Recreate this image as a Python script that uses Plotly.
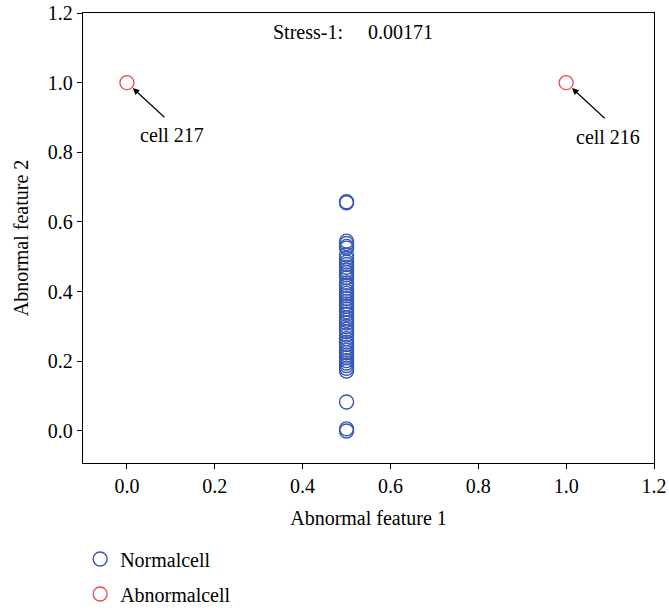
import plotly.graph_objects as go

normal_x_value = 0.5
normal_y = [0.658, 0.655, 0.545, 0.538, 0.530, 0.525, 0.505, 0.495, 0.485, 0.478,
            0.470, 0.462, 0.455, 0.448, 0.440, 0.425, 0.418, 0.410, 0.402, 0.395,
            0.388, 0.380, 0.372, 0.365, 0.358, 0.350, 0.342, 0.335, 0.325, 0.318,
            0.310, 0.300, 0.292, 0.285, 0.275, 0.265, 0.255, 0.248, 0.240, 0.232,
            0.225, 0.218, 0.210, 0.202, 0.195, 0.188, 0.180, 0.172, 0.083, 0.006, 0.0]
normal_x = [normal_x_value] * len(normal_y)

abnormal_x = [0.0, 1.0]
abnormal_y = [1.0, 1.0]
abnormal_labels = ["cell 217", "cell 216"]

series_names = ["Normalcell", "Abnormalcell"]
stress_text = "Stress-1:\u00a0\u00a0\u00a0\u00a0\u00a00.00171"

FONT = "Liberation Serif"
FS = 20
BLUE = "#3656b8"
RED = "#ec4b4b"

fig = go.Figure()
fig.add_trace(go.Scatter(x=normal_x, y=normal_y, mode="markers", name=series_names[0],
                         legendgroup="a",
                         marker=dict(symbol="circle-open", size=14, color=BLUE,
                                     line=dict(width=1.4, color=BLUE))))
fig.add_trace(go.Scatter(x=abnormal_x, y=abnormal_y, mode="markers", name=series_names[1],
                         legendgroup="b",
                         marker=dict(symbol="circle-open", size=14, color=RED,
                                     line=dict(width=1.3, color=RED))))

# arrows (tail offsets in pixels) and labels
arrow_tails = [(39, 36), (40, 37)]
label_offsets = [(45, 52), (42, 54)]
for xv, yv, lab, (tx, ty), (lx, ly) in zip(abnormal_x, abnormal_y, abnormal_labels,
                                           arrow_tails, label_offsets):
    fig.add_annotation(x=xv, y=yv, xref="x", yref="y", text="", showarrow=True,
                       ax=tx, ay=ty, arrowhead=2, arrowsize=1.1, arrowwidth=1.2,
                       arrowcolor="black", standoff=8)
    fig.add_annotation(x=xv, y=yv, xref="x", yref="y", text=lab, showarrow=False,
                       xshift=lx, yshift=-ly, font=dict(family=FONT, size=FS, color="black"))

fig.add_annotation(x=0.472, y=0.958, xref="paper", yref="paper", text=stress_text,
                   xanchor="center", yanchor="middle",
                   showarrow=False, font=dict(family=FONT, size=FS, color="black"))

axis_common = dict(showline=True, linecolor="black", linewidth=1.3, mirror=True,
                   ticks="outside", ticklen=5, tickwidth=1.2, tickcolor="black",
                   showgrid=False, zeroline=False, tickformat=".1f", automargin=False,
                   tickfont=dict(family=FONT, size=FS, color="black"),
                   title_font=dict(family=FONT, size=FS, color="black"))

fig.update_layout(
    width=669, height=610,
    margin=dict(l=83, r=15, t=13, b=147, autoexpand=False),
    plot_bgcolor="white", paper_bgcolor="white",
    xaxis=dict(range=[-0.1, 1.2], dtick=0.2, title=dict(text="Abnormal feature 1", standoff=14),
               **axis_common),
    yaxis=dict(range=[-0.092, 1.2], dtick=0.2, title=dict(text="Abnormal feature 2", standoff=13),
               **axis_common),
    showlegend=True,
    legend=dict(x=-0.005, y=-0.17, xanchor="left", yanchor="top",
                font=dict(family=FONT, size=FS, color="black"),
                tracegroupgap=6, bgcolor="rgba(0,0,0,0)"),
)

fig.write_html("out.html")
